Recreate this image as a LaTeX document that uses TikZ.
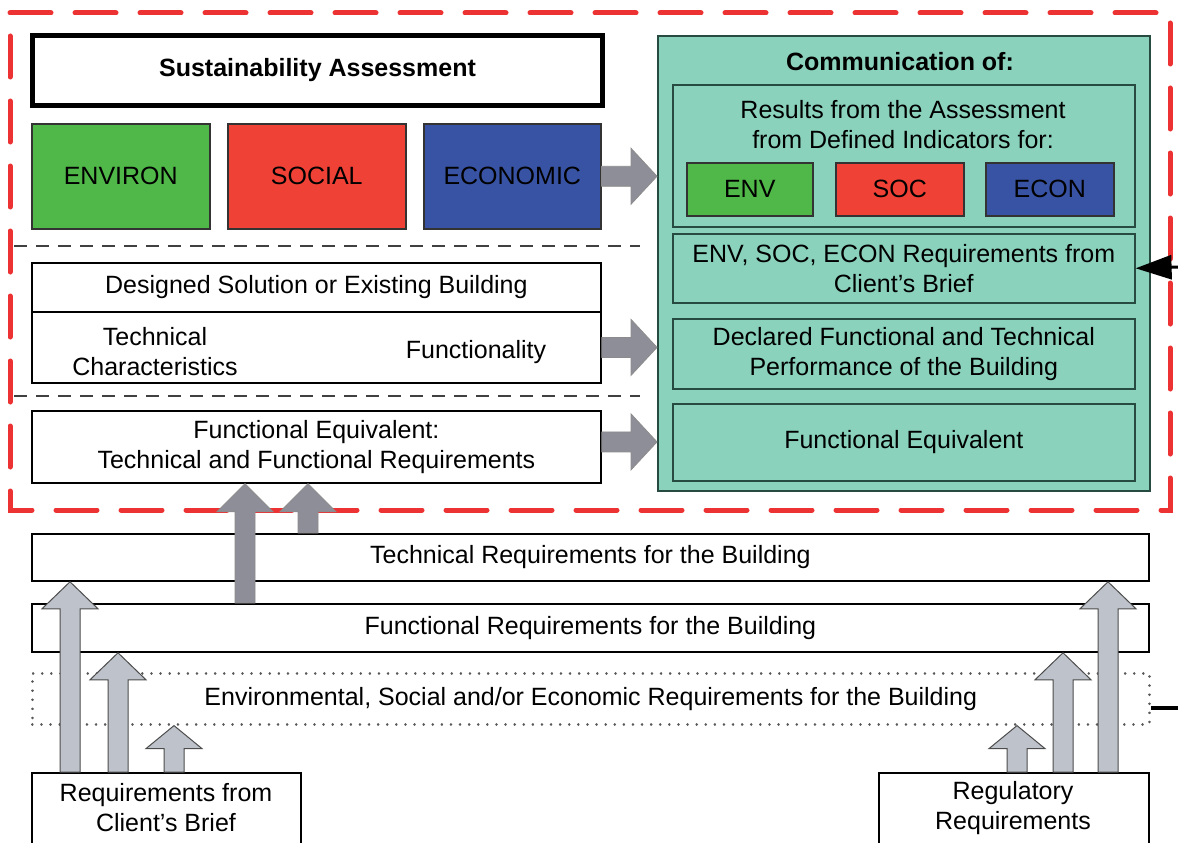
\documentclass[tikz,border=0pt]{standalone}
\usepackage{fontspec}
\setmainfont{Liberation Sans}
\usetikzlibrary{calc,arrows.meta}
\definecolor{tealfill}{RGB}{138,210,188}
\definecolor{tealline}{RGB}{40,75,65}
\definecolor{envgreen}{RGB}{80,184,72}
\definecolor{socred}{RGB}{239,65,54}
\definecolor{ecoblue}{RGB}{57,83,164}
\definecolor{dashred}{RGB}{236,50,50}
\definecolor{lightarr}{RGB}{190,194,202}
\definecolor{darkarr}{RGB}{142,142,152}
\newcommand\bx[7]{\node[#6, minimum width=#4pt, minimum height=#5pt] (#1) at (#2,#3) {#7};}
% block arrow: style, from, to, shaft half, head half, head length
\newcommand\blockarrow[6]{%
  \coordinate (ba-h) at ($#3!#6pt!#2$);
  \path[#1] ($#2!#4pt!90:#3$) -- ($(ba-h)!#4pt!-90:#2$) -- ($(ba-h)!#5pt!-90:#2$) -- #3
    -- ($(ba-h)!#5pt!90:#2$) -- ($(ba-h)!#4pt!90:#2$) -- ($#2!#4pt!-90:#3$) -- cycle;}
\begin{document}
\begin{tikzpicture}[x=1pt,y=-1pt,
  every node/.style={font=\fontsize{25}{30}\selectfont, inner sep=0pt, align=center},
  box/.style={draw=black, line width=1.8pt, fill=white, anchor=north west},
  colbox/.style={draw=black!80, line width=1.5pt, anchor=north west},
  tealbox/.style={draw=tealline, line width=1.6pt, fill=tealfill, anchor=north west},
  dotbox/.style={draw=black!65, line width=2.6pt, dash pattern=on 0.1pt off 9pt, line cap=round, anchor=north west},
  lightarrow/.style={fill=lightarr, draw=black!70, line width=1pt, line join=miter},
  darkarrow/.style={fill=darkarr, draw=black!45, line width=0.8pt, line join=miter},
  sep/.style={draw=black!75, line width=2pt, dash pattern=on 13pt off 9pt},
  reddash/.style={draw=dashred, line width=5pt, dash pattern=on 41pt off 24pt, line cap=round},
  txt/.style={font=\fontsize{25}{30}\selectfont},
  bold/.style={font=\fontsize{25}{30}\selectfont\bfseries}]
\useasboundingbox (0,0) rectangle (1178,843);
\clip (0,0) rectangle (1178,843);
\fill[white] (0,0) rectangle (1178,843);

% left column, top
\bx{sa}{30}{33}{570}{70}{box, line width=5pt, bold}{Sustainability Assessment}
\bx{environ}{31}{123}{178}{105}{colbox, fill=envgreen}{ENVIRON}
\bx{social}{227}{123}{178}{105}{colbox, fill=socred}{SOCIAL}
\bx{economic}{423}{123}{177}{105}{colbox, fill=ecoblue}{ECONOMIC}

\bx{dsbtop}{31}{262}{569}{49}{box}{Designed Solution or Existing Building}
\bx{dsblow}{31}{311}{569}{71}{box}{}
\node[txt] (techchar) at (155,352) {Technical\\Characteristics};
\node[txt] (functy) at (476,352) {Functionality};
\bx{fe}{31}{410}{569}{72}{box}{Functional Equivalent:\\Technical and Functional Requirements}

% separators
\coordinate (s1a) at (14,246); \coordinate (s1b) at (640,246);
\coordinate (s2a) at (14,396); \coordinate (s2b) at (640,396);
\draw[sep] (s1a) -- (s1b);
\draw[sep] (s2a) -- (s2b);

% communication box
\bx{comm}{657}{35}{492}{455}{tealbox}{}
\node[bold] (commtitle) at (900,62) {Communication of:};
\bx{results}{672}{84}{462}{142}{tealbox}{}
\node[txt] (restext) at (903,125) {Results from the Assessment\\from Defined Indicators for:};
\bx{env}{686}{162}{126}{53}{colbox, fill=envgreen}{ENV}
\bx{soc}{835}{162}{128}{53}{colbox, fill=socred}{SOC}
\bx{econ}{985}{162}{128}{53}{colbox, fill=ecoblue}{ECON}
\bx{req}{672}{233}{462}{69}{tealbox}{ENV, SOC, ECON Requirements from\\Client's Brief}
\bx{decl}{672}{318}{462}{70}{tealbox}{Declared Functional and Technical\\Performance of the Building}
\bx{fe2}{672}{403}{462}{77}{tealbox}{Functional Equivalent}

% bottom boxes
\bx{tech}{31}{533}{1117}{47}{box}{Technical Requirements for the Building}
\bx{func}{31}{603}{1117}{48}{box}{Functional Requirements for the Building}
\bx{esr}{31}{672}{1117}{51}{dotbox}{Environmental, Social and/or Economic Requirements for the Building}
\bx{client}{31}{772}{269}{100}{box}{}
\node[txt] (clienttext) at (166,808) {Requirements from\\Client's Brief};
\bx{regul}{878}{772}{270}{100}{box}{}
\node[txt] (regultext) at (1013,808) {Regulatory\\Requirements};

% red dashed frame
\draw[reddash] (10,13) -- (1170,13) -- (1170,510) -- (10,510) -- cycle;

% horizontal grey arrows
\blockarrow{darkarrow}{(economic.east)}{(economic.east -| comm.west)}{10}{28}{26}
\blockarrow{darkarrow}{(dsblow.east)}{(dsblow.east -| comm.west)}{10}{28}{26}
\coordinate (fearr) at ($(fe.east)+(0,-5)$);
\blockarrow{darkarrow}{(fearr)}{(fearr -| comm.west)}{10}{28}{26}

% dark upward arrows
\coordinate (xd1) at (245,0); \coordinate (xd2) at (308,0);
\blockarrow{darkarrow}{(func.north -| xd1)}{(fe.south -| xd1)}{10}{28}{28}
\blockarrow{darkarrow}{(tech.north -| xd2)}{(fe.south -| xd2)}{10}{28}{28}

% light upward arrows
\coordinate (xl1) at (70,0); \coordinate (xl2) at (118,0); \coordinate (xl3) at (174,0);
\coordinate (xr1) at (1017,0); \coordinate (xr2) at (1063,0); \coordinate (xr3) at (1108,0);
\blockarrow{lightarrow}{(client.north -| xl1)}{(tech.south -| xl1)}{10}{28}{27}
\blockarrow{lightarrow}{(client.north -| xl2)}{(func.south -| xl2)}{10}{28}{27}
\blockarrow{lightarrow}{(client.north -| xl3)}{(esr.south -| xl3)}{10}{28}{23}
\blockarrow{lightarrow}{(regul.north -| xr1)}{(esr.south -| xr1)}{10}{28}{23}
\blockarrow{lightarrow}{(regul.north -| xr2)}{(func.south -| xr2)}{10}{28}{27}
\blockarrow{lightarrow}{(regul.north -| xr3)}{(tech.south -| xr3)}{10}{28}{27}

% incoming black arrows from the right
\coordinate (inreq) at (1180,267);
\draw[line width=3pt, -{Triangle[length=36pt,width=24pt]}] (inreq) -- (req.east);
\coordinate (inesr) at (1180,708);
\draw[line width=4pt] (inesr) -- (inesr -| esr.east);
\end{tikzpicture}
\end{document}
